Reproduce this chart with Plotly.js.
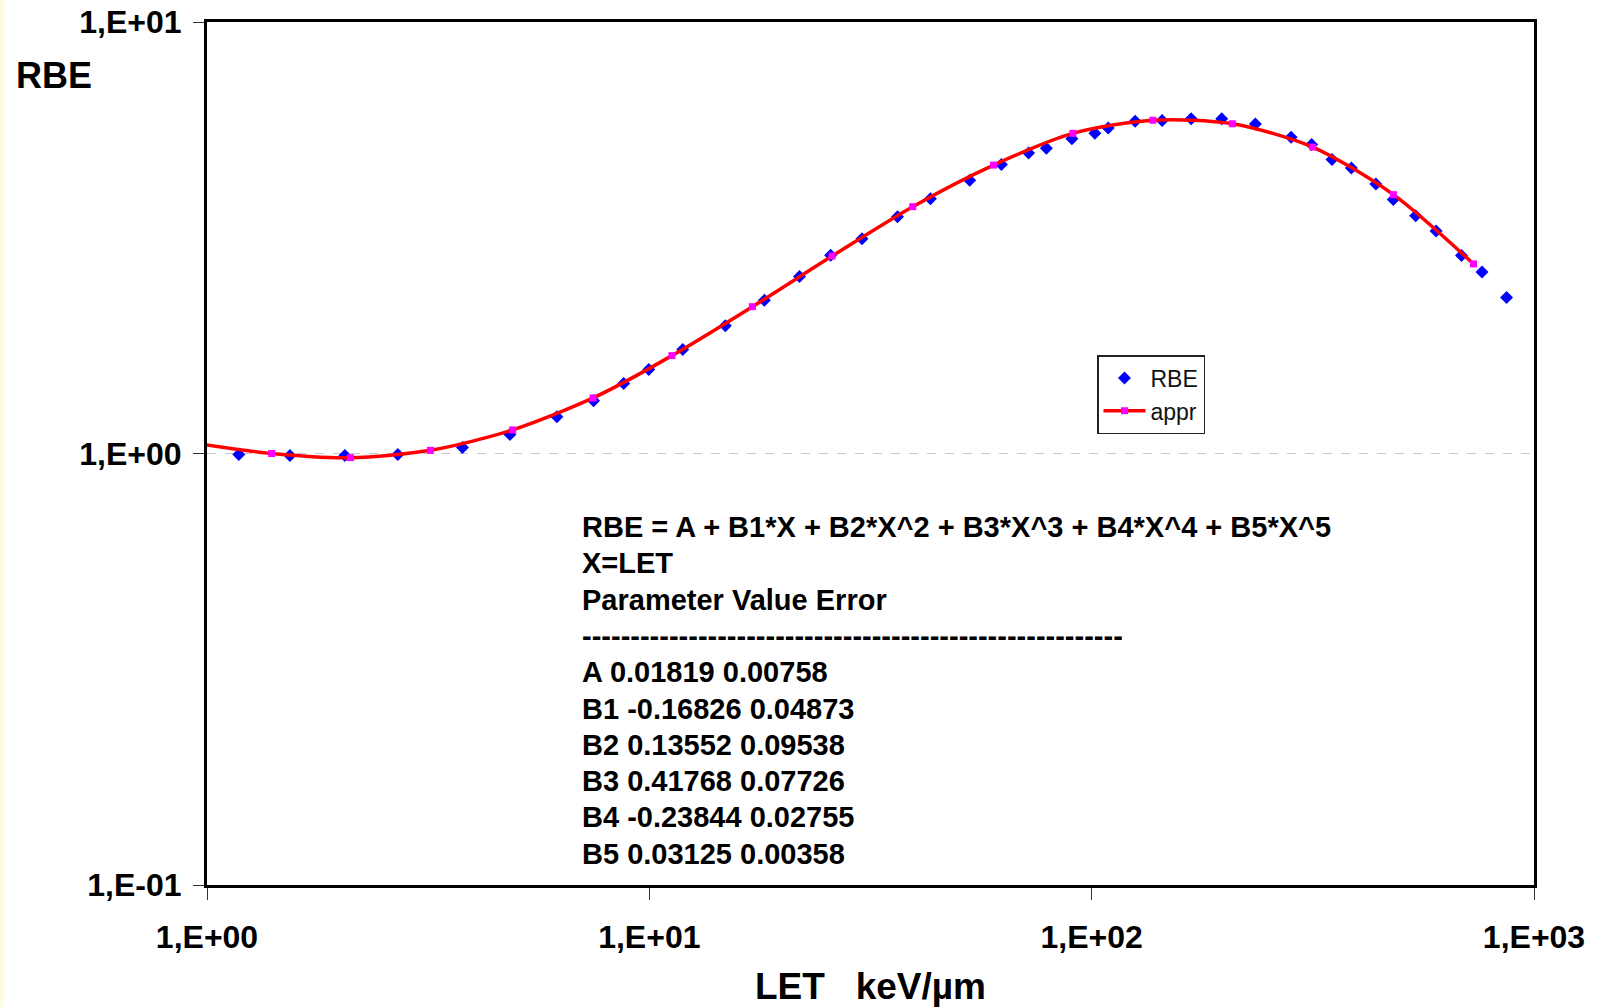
<!DOCTYPE html>
<html>
<head>
<meta charset="utf-8">
<script src="https://cdn.plot.ly/plotly-3.0.1.min.js"></script>
<style>
  html, body { margin: 0; padding: 0; background: #ffffff; }
  #chart { width: 1602px; height: 1007px; }
</style>
</head>
<body>
<div id="chart"></div>
<script>
// Measured RBE points (blue diamonds)
const rbeLET = [1.18,1.54,2.05,2.70,3.78,4.84,6.18,7.48,8.75,9.97,11.9,14.85,18.2,21.85,25.7,30.25,36.4,43.2,53.0,62.5,72.0,79.0,90.2,101.7,109,125.4,144.3,167.8,196.8,234.5,282.4,314.2,349.4,386.5,439.1,480.6,540.2,600.6,685.6,762.9,866.8];
const rbeVal = [0.995,0.99,0.99,0.995,1.032,1.107,1.216,1.325,1.452,1.566,1.743,1.976,2.264,2.572,2.882,3.147,3.538,3.895,4.30,4.675,4.97,5.10,5.365,5.52,5.68,5.885,5.915,5.965,5.965,5.80,5.41,5.20,4.80,4.59,4.21,3.88,3.555,3.277,2.875,2.635,2.30];

// Approximation curve points (magenta squares, red line)
const apprLET = [0.92,1.40,2.11,3.20,4.91,7.46,11.25,17.1,25.9,39.4,60.0,90.7,137.5,208,316,481,730];
const apprVal = [1.06,1.00,0.978,1.017,1.134,1.345,1.686,2.189,2.869,3.733,4.66,5.52,5.92,5.81,5.13,3.98,2.75];

// Axis ticks
const xTickVals = [1, 10, 100, 1000];
const xTickText = ['1,E+00', '1,E+01', '1,E+02', '1,E+03'];
const yTickVals = [0.1, 1, 10];
const yTickText = ['1,E-01', '1,E+00', '1,E+01'];

// Fit text block
const fitLines = [
  'RBE = A + B1*X + B2*X^2 + B3*X^3 + B4*X^4 + B5*X^5',
  'X=LET',
  'Parameter Value Error',
  '--------------------------------------------------------',
  'A 0.01819 0.00758',
  'B1 -0.16826 0.04873',
  'B2 0.13552 0.09538',
  'B3 0.41768 0.07726',
  'B4 -0.23844 0.02755',
  'B5 0.03125 0.00358'
];

const W = 1602, H = 1007;
const M = { l: 207, r: 68, t: 22, b: 122 };
const PW = W - M.l - M.r, PH = H - M.t - M.b;
const px2x = p => (p - M.l) / PW;
const py2y = p => (H - M.b - p) / PH;

const traces = [
  {
    x: rbeLET, y: rbeVal, name: 'RBE', type: 'scatter', mode: 'markers',
    marker: { symbol: 'diamond', size: 10, color: '#0000ff', line: { width: 0 } },
    legendgroup: 'a'
  },
  {
    x: apprLET, y: apprVal, name: 'appr', type: 'scatter', mode: 'lines+markers',
    line: { color: '#ff0000', width: 3.5, shape: 'spline', smoothing: 0.8 },
    marker: { symbol: 'square', size: 7, color: '#ff00ff', line: { width: 0 } },
    legendgroup: 'b'
  }
];

const blockFont = { family: 'Liberation Sans, Arial, sans-serif', size: 29, color: '#000', weight: 700 };

const annotations = fitLines.map((t, i) => ({
  text: t, xref: 'paper', yref: 'paper',
  x: px2x(580), y: py2y(527 + 36.3 * i),
  xanchor: 'left', yanchor: 'middle', showarrow: false, align: 'left',
  font: blockFont
}));
annotations.push({
  text: 'RBE', xref: 'paper', yref: 'paper',
  x: px2x(14), y: py2y(75), xanchor: 'left', yanchor: 'middle', showarrow: false,
  font: { family: 'Liberation Sans, Arial, sans-serif', size: 36, color: '#000', weight: 700 }
});

const tickFont = { family: 'Liberation Sans, Arial, sans-serif', size: 32, color: '#000', weight: 700 };

const layout = {
  width: W, height: H,
  margin: M,
  paper_bgcolor: '#ffffff', plot_bgcolor: '#ffffff',
  showlegend: true,
  legend: {
    x: px2x(1097), y: py2y(355), xanchor: 'left', yanchor: 'top',
    bgcolor: '#ffffff', bordercolor: '#222', borderwidth: 1.5,
    font: { family: 'Liberation Sans, Arial, sans-serif', size: 23, color: '#111' },
    itemwidth: 42,
    tracegroupgap: 0
  },
  xaxis: {
    type: 'log', range: [0, 3],
    tickvals: xTickVals, ticktext: xTickText,
    ticks: 'outside', ticklen: 12, tickwidth: 1, tickcolor: '#333',
    showline: true, linewidth: 3, linecolor: '#000', mirror: true,
    showgrid: false, zeroline: false,
    tickfont: tickFont, ticklabelstandoff: 10,
    title: { text: 'LET\u00a0\u00a0\u00a0keV/\u00b5m', font: { family: 'Liberation Sans, Arial, sans-serif', size: 37, color: '#000', weight: 700 }, standoff: 21 }
  },
  yaxis: {
    type: 'log', range: [-1, 1],
    tickvals: yTickVals, ticktext: yTickText,
    ticks: 'outside', ticklen: 11, tickwidth: 1, tickcolor: '#333',
    showline: true, linewidth: 3, linecolor: '#000', mirror: true,
    showgrid: true, gridcolor: '#c8c8c8', gridwidth: 1, griddash: 'dash',
    zeroline: false,
    tickfont: tickFont, ticklabelstandoff: 5
  },
  annotations: annotations,
  shapes: [{
    type: 'rect', xref: 'paper', yref: 'paper', layer: 'below',
    x0: px2x(0), x1: px2x(4), y0: py2y(H), y1: py2y(0),
    fillcolor: '#fffbe0', line: { width: 0 }
  }]
};

Plotly.newPlot('chart', traces, layout, { displayModeBar: false, staticPlot: true });
</script>
</body>
</html>
